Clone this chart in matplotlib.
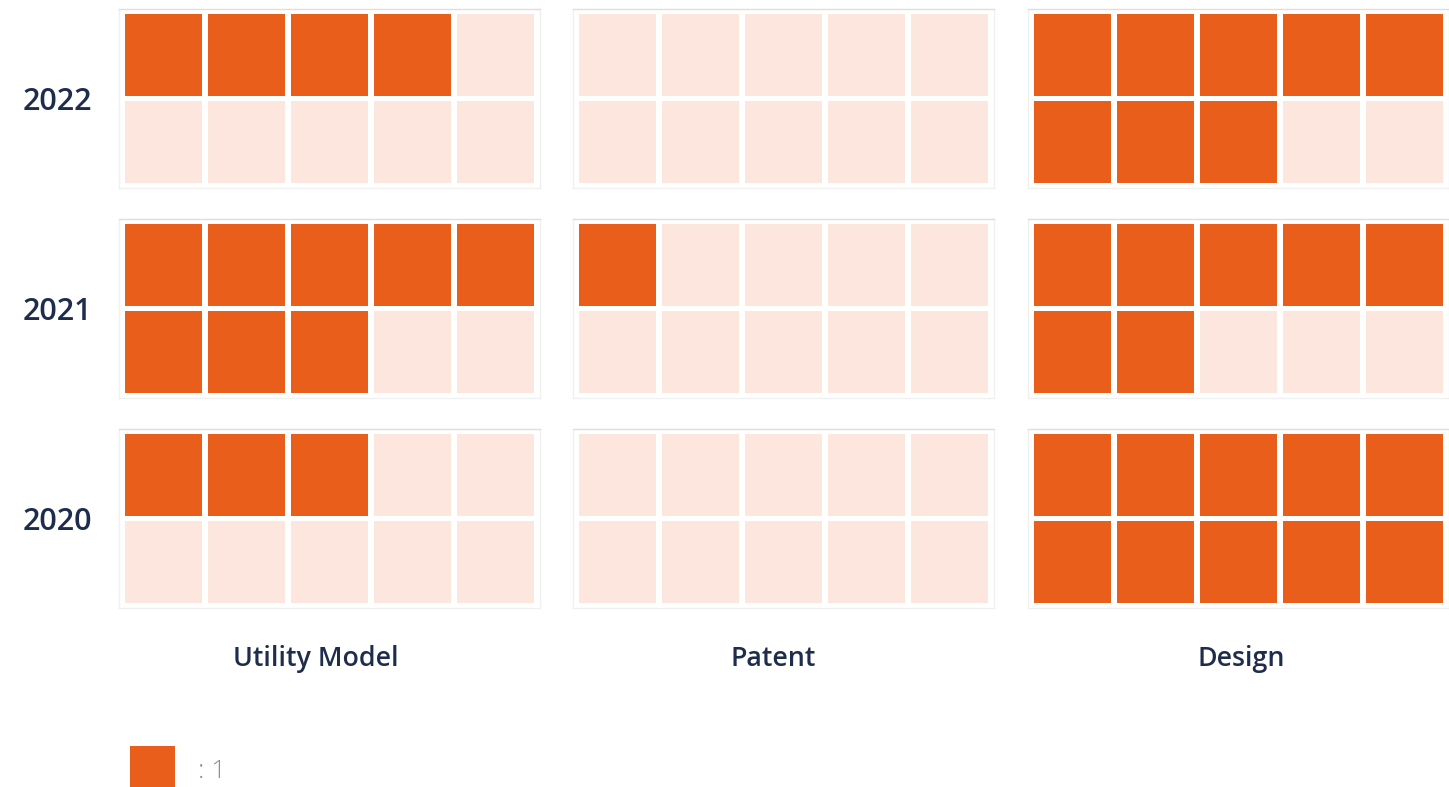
import matplotlib
matplotlib.use("Agg")
import matplotlib.pyplot as plt
from matplotlib.patches import Rectangle

years = ["2022", "2021", "2020"]
categories = ["Utility Model", "Patent", "Design"]
# filled squares per (year, category)
counts = [
    [4, 0, 8],
    [8, 1, 7],
    [3, 0, 10],
]
n_cols, n_rows = 5, 2

dark = "#EA5E1B"
light = "#FDE6DE"
text_col = "#1F2D4D"

W, H = 1449, 787
fig = plt.figure(figsize=(W / 100, H / 100), dpi=100)

panel_x = [119, 573, 1028]
panel_y = [9, 219, 429]
panel_w, panel_h = 421, 179
label_x = [316, 773, 1241]
gx, gy = 0.072, 0.06


def px_axes(x, y, w, h):
    return fig.add_axes([x / W, 1 - (y + h) / H, w / W, h / H])


for r, year in enumerate(years):
    for c, cat in enumerate(categories):
        ax = px_axes(panel_x[c], panel_y[r], panel_w, panel_h)
        n = counts[r][c]
        for k in range(n_cols * n_rows):
            row, col = divmod(k, n_cols)
            color = dark if k < n else light
            ax.add_patch(Rectangle((col + gx / 2, (n_rows - 1 - row) + gy / 2),
                                   1 - gx, 1 - gy, facecolor=color,
                                   edgecolor="none"))
        ax.set_xlim(-gx / 2, n_cols + gx / 2)
        ax.set_ylim(-gy / 2, n_rows + gy / 2)
        ax.set_xticks([])
        ax.set_yticks([])
        for s in ax.spines.values():
            s.set_color("#f0f0f0")
            s.set_linewidth(1)
        ax.spines["top"].set_color("#dedede")
    fig.text(57 / W, 1 - (panel_y[r] + panel_h / 2 + 4) / H, year,
             ha="center", va="center", fontsize=22, color=text_col,
             family="Open Sans", weight="semibold")

for c, cat in enumerate(categories):
    fig.text(label_x[c] / W, 1 - 659 / H, cat,
             ha="center", va="center", fontsize=19.3, color=text_col,
             family="Open Sans", weight="semibold")

# legend
lax = px_axes(130, 746, 45, 41)
lax.add_patch(Rectangle((0, 0), 1, 1, facecolor=dark, edgecolor="none"))
lax.set_xlim(0, 1)
lax.set_ylim(0, 1)
lax.axis("off")
fig.text(198 / W, 1 - 771 / H, ": 1", ha="left", va="center",
         fontsize=19, color="#8a909a", family="Open Sans", weight="light")

fig.savefig("out.png", dpi=100)
